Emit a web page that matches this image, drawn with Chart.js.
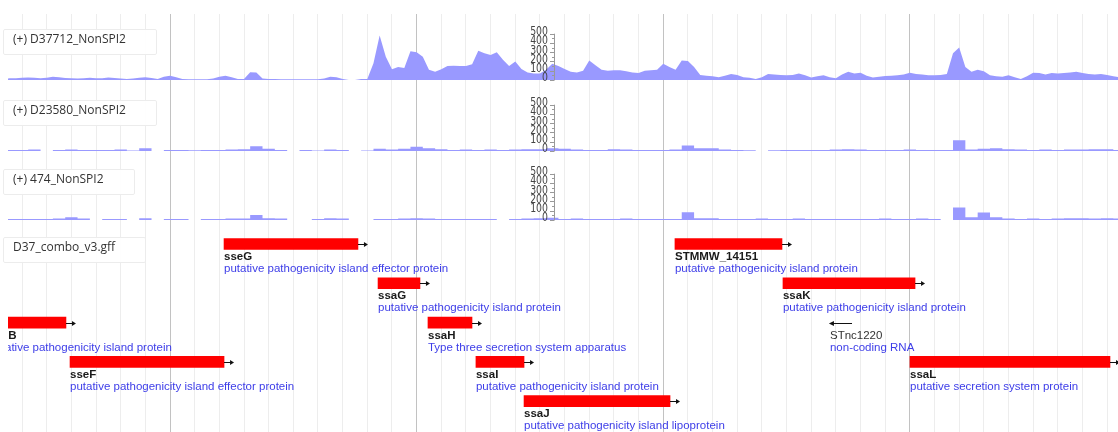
<!DOCTYPE html>
<html>
<head>
<meta charset="utf-8">
<title>SPI-2 coverage</title>
<script src="https://cdn.jsdelivr.net/npm/chart.js@4.4.1/dist/chart.umd.min.js"></script>
<style>
  body { margin: 0; background: #fff; }
  #view { position: relative; width: 1118px; height: 432px; overflow: hidden; background: #fff; }
  #view canvas { position: absolute; left: 8px; }
  .trackLabel { position: absolute; left: 3px; height: 24px; line-height: 24px; padding: 0 30px 0 9px;
    font: 12px "Open Sans", sans-serif; color: #333; background: rgba(255,255,255,0.92);
    border: 1px solid #ececec; border-radius: 2px; white-space: nowrap; }
</style>
</head>
<body>
<div id="view">
  <canvas id="cov1" width="1110" height="76" style="top:14px"></canvas>
  <canvas id="cov2" width="1110" height="70" style="top:90px"></canvas>
  <canvas id="cov3" width="1110" height="70" style="top:160px"></canvas>
  <canvas id="genes" width="1110" height="202" style="top:230px"></canvas>
</div>
<script>
// fenetre genomique affichee (pb)
const viewStart = 686;
const viewEnd = 9688;

const trackNames = ['(+) D37712_NonSPI2', '(+) D23580_NonSPI2', '(+) 474_NonSPI2'];
const geneTrackName = 'D37_combo_v3.gff';
const scaleTicks = [0, 100, 200, 300, 400, 500];

// couverture D37712 : bins de 50 pb a partir de 600
const cov1 = [15, 15, 18, 20, 25, 28, 25, 20, 25, 35, 30, 22, 18, 15, 20, 25, 18, 20, 28, 22,
  15, 12, 15, 25, 30, 22, 12, 35, 45, 30, 12, 8, 8, 8, 8, 15, 35, 45, 30, 12,
  10, 85, 80, 15, 10, 10, 8, 8, 8, 8, 8, 8, 8, 15, 35, 30, 12, 0, 0, 10,
  10, 180, 480, 250, 115, 140, 130, 310, 300, 250, 110, 90, 115, 150, 155, 150, 150, 170, 315, 290,
  270, 300, 220, 150, 200, 120, 80, 70, 70, 110, 175, 150, 120, 90, 80, 100, 210, 160, 110, 100,
  105, 105, 95, 80, 75, 100, 105, 110, 175, 140, 110, 210, 205, 140, 55, 45, 40, 30, 45, 65,
  55, 30, 25, 12, 30, 65, 60, 55, 50, 55, 70, 50, 28, 40, 52, 30, 18, 60, 88, 70,
  78, 45, 28, 35, 42, 45, 52, 60, 78, 65, 60, 52, 50, 55, 65, 290, 350, 140, 90, 110,
  95, 52, 40, 35, 50, 30, 10, 40, 78, 75, 60, 75, 70, 75, 80, 88, 75, 65, 60, 65,
  55, 40, 30];

// couverture D23580 et 474 : bins de 100 pb a partir de 600
const cov2 = [12, 12, 10, 15, 0, 12, 15, 10, 10, 12, 15, 5, 30, 0, 10, 10, 8, 10, 12, 15,
  20, 50, 25, 12, 0, 10, 5, 15, 10, 0, 5, 25, 15, 25, 45, 30, 20, 12, 15, 12,
  15, 10, 15, 20, 20, 30, 25, 15, 10, 12, 20, 15, 12, 12, 10, 15, 60, 30, 30, 15,
  10, 8, 0, 8, 10, 10, 12, 12, 15, 20, 15, 12, 10, 12, 15, 10, 12, 10, 115, 15,
  25, 30, 20, 15, 12, 15, 12, 15, 15, 20, 20, 12];

const cov3 = [10, 10, 12, 12, 10, 15, 30, 15, 0, 10, 12, 0, 20, 0, 12, 10, 0, 10, 12, 15,
  15, 55, 20, 15, 0, 0, 10, 20, 15, 0, 0, 10, 12, 15, 20, 15, 12, 12, 12, 10,
  10, 0, 12, 15, 20, 25, 12, 15, 12, 10, 12, 15, 12, 10, 12, 10, 85, 20, 20, 12,
  10, 12, 15, 10, 12, 15, 12, 10, 12, 12, 10, 12, 15, 12, 10, 15, 10, 0, 135, 30,
  80, 30, 15, 12, 15, 12, 15, 20, 18, 15, 20, 15];

const cov1Pos = cov1.map((v, i) => 600 + 50 * i);
const cov23Pos = cov2.map((v, i) => 600 + 100 * i);

// annotations (D37_combo_v3.gff)
const geneNames = ['sscB', 'sseF', 'sseG', 'ssaG', 'ssaH', 'ssaI', 'ssaJ', 'STMMW_14151', 'ssaK', 'STnc1220', 'ssaL'];
const geneDesc = [
  'putative pathogenicity island protein',
  'putative pathogenicity island effector protein',
  'putative pathogenicity island effector protein',
  'putative pathogenicity island protein',
  'Type three secretion system apparatus',
  'putative pathogenicity island protein',
  'putative pathogenicity island lipoprotein',
  'putative pathogenicity island protein',
  'putative pathogenicity island protein',
  'non-coding RNA',
  'putative secretion system protein'
];
const geneStart = [532, 1189, 2438, 3687, 4092, 4481, 4871, 6095, 6971, 7352, 8001];
const geneEnd = [1156, 2438, 3524, 4027, 4449, 4871, 6055, 6963, 8042, 7531, 9623];
const geneStrand = [1, 1, 1, 1, 1, 1, 1, 1, 1, -1, 1];
const geneType = ['CDS', 'CDS', 'CDS', 'CDS', 'CDS', 'CDS', 'CDS', 'CDS', 'CDS', 'ncRNA', 'CDS'];
const geneRow = [2, 3, 0, 1, 2, 3, 4, 0, 1, 2, 3];

// lignes de grille toutes les 200 pb, majeures toutes les 2000 pb
const gridPos = [];
for (let p = Math.ceil(viewStart / 200) * 200; p <= viewEnd; p += 200) gridPos.push(p);

const covColor = 'rgb(153,153,255)';
const unitsPerPx = 10.8;

function xAxis() {
  return {
    type: 'linear',
    min: viewStart,
    max: viewEnd,
    offset: false,
    afterBuildTicks: s => { s.ticks = gridPos.map(v => ({ value: v })); },
    ticks: { display: false },
    grid: {
      drawTicks: false,
      offset: false,
      lineWidth: 1,
      color: c => (c.tick && c.tick.value % 2000 === 0) ? '#c2c2c2' : '#ededed'
    },
    border: { display: false }
  };
}

const common = {
  responsive: false,
  animation: false,
  events: [],
  layout: { padding: 0 },
  plugins: { legend: { display: false }, tooltip: { enabled: false } }
};

// echelle 0-500 au milieu de la piste
const covScale = {
  id: 'covScale',
  afterDatasetsDraw(chart) {
    const { ctx, chartArea } = chart;
    const y = chart.scales.y;
    const x0 = chartArea.left + 546;
    ctx.save();
    ctx.strokeStyle = '#999';
    ctx.lineWidth = 1;
    ctx.beginPath();
    ctx.moveTo(x0 + 0.5, y.getPixelForValue(0));
    ctx.lineTo(x0 + 0.5, y.getPixelForValue(500));
    for (let v = 0; v <= 500; v += 50) {
      const py = Math.round(y.getPixelForValue(v)) + 0.5;
      ctx.moveTo(x0 - (v % 100 === 0 ? 4 : 2), py);
      ctx.lineTo(x0 + 0.5, py);
    }
    ctx.stroke();
    ctx.fillStyle = '#444';
    ctx.font = '13px "DejaVu Sans", sans-serif';
    ctx.textAlign = 'right';
    ctx.textBaseline = 'middle';
    scaleTicks.forEach(v => {
      ctx.save();
      ctx.translate(x0 - 6, y.getPixelForValue(v) - 2);
      ctx.scale(0.72, 1);
      ctx.fillText(String(v), 0, 0);
      ctx.restore();
    });
    ctx.restore();
  }
};

function coverageChart(id, pos, values, below, stepped) {
  const canvas = document.getElementById(id);
  const h = canvas.height;
  return new Chart(canvas, {
    type: 'line',
    data: {
      datasets: [{
        data: values.map((v, i) => ({ x: pos[i], y: v })),
        fill: 'origin',
        stepped: stepped,
        tension: 0,
        backgroundColor: covColor,
        borderColor: 'rgba(0,0,0,0)',
        borderWidth: 1,
        pointRadius: 0
      }]
    },
    options: {
      ...common,
      scales: {
        x: xAxis(),
        y: { display: false, min: -below * unitsPerPx, max: (h - below) * unitsPerPx }
      }
    },
    plugins: [covScale]
  });
}

coverageChart('cov1', cov1Pos, cov1, 10, false);
coverageChart('cov2', cov23Pos, cov2, 9, 'middle');
coverageChart('cov3', cov23Pos, cov3, 10, 'middle');

// noms, descriptions et fleches des genes
const geneLabels = {
  id: 'geneLabels',
  afterDatasetsDraw(chart) {
    const { ctx, chartArea } = chart;
    const x = chart.scales.x;
    const y = chart.scales.y;
    ctx.save();
    ctx.beginPath();
    ctx.rect(chartArea.left, chartArea.top, chartArea.width, chartArea.height);
    ctx.clip();
    geneNames.forEach((name, i) => {
      const yc = Math.round(y.getPixelForValue(geneRow[i])) + 0.5;
      const xs = x.getPixelForValue(geneStart[i]);
      const xe = x.getPixelForValue(geneEnd[i]);
      ctx.strokeStyle = '#111';
      ctx.fillStyle = '#111';
      ctx.lineWidth = 1;
      ctx.beginPath();
      if (geneType[i] === 'ncRNA') {
        ctx.moveTo(xs, yc);
        ctx.lineTo(xe, yc);
        ctx.stroke();
        ctx.beginPath();
        ctx.moveTo(xs - 1, yc);
        ctx.lineTo(xs + 4, yc - 2.5);
        ctx.lineTo(xs + 4, yc + 2.5);
        ctx.fill();
      } else if (geneStrand[i] > 0) {
        ctx.moveTo(xe, yc);
        ctx.lineTo(xe + 7, yc);
        ctx.stroke();
        ctx.beginPath();
        ctx.moveTo(xe + 10, yc);
        ctx.lineTo(xe + 6, yc - 2.5);
        ctx.lineTo(xe + 6, yc + 2.5);
        ctx.fill();
      }
      ctx.textAlign = 'left';
      ctx.textBaseline = 'middle';
      if (geneType[i] === 'ncRNA') {
        ctx.font = '11.5px Arial, "Liberation Sans", sans-serif';
        ctx.fillStyle = '#333';
      } else {
        ctx.font = 'bold 11.5px Arial, "Liberation Sans", sans-serif';
        ctx.fillStyle = '#1a1a1a';
      }
      ctx.fillText(name, xs, yc + 12);
      ctx.font = '11.5px Arial, "Liberation Sans", sans-serif';
      ctx.fillStyle = '#3d3de8';
      ctx.fillText(geneDesc[i], xs, yc + 24);
    });
    ctx.restore();
  }
};

const cdsBars = [];
geneNames.forEach((n, i) => {
  if (geneType[i] === 'CDS') cdsBars.push({ x: [geneStart[i], geneEnd[i]], y: geneRow[i] });
});

new Chart(document.getElementById('genes'), {
  type: 'bar',
  data: {
    datasets: [{
      data: cdsBars,
      backgroundColor: 'rgb(255,0,0)',
      borderWidth: 0,
      borderSkipped: false,
      barThickness: 11
    }]
  },
  options: {
    ...common,
    indexAxis: 'y',
    scales: {
      x: xAxis(),
      y: { type: 'linear', display: false, offset: false, reverse: true, min: -0.356, max: 4.784 }
    }
  },
  plugins: [geneLabels]
});

// etiquettes des pistes
const view = document.getElementById('view');
const labelTops = [29, 100, 169, 237];
trackNames.concat([geneTrackName]).forEach((t, i) => {
  const d = document.createElement('div');
  d.className = 'trackLabel';
  d.style.top = labelTops[i] + 'px';
  d.textContent = t;
  view.appendChild(d);
});
</script>
</body>
</html>
